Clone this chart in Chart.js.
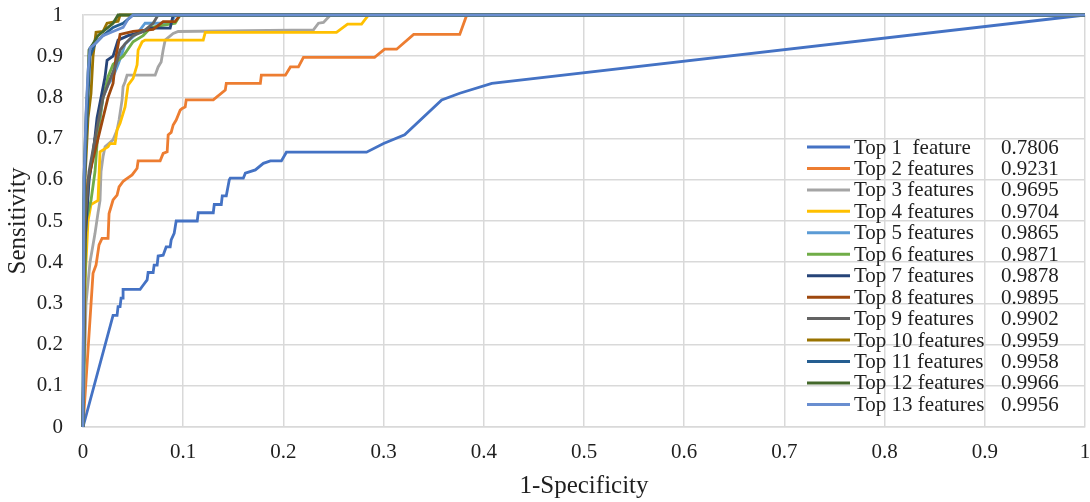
<!DOCTYPE html>
<html>
<head>
<meta charset="utf-8">
<title>ROC curves</title>
<script src="https://cdn.jsdelivr.net/npm/chart.js@4.4.0/dist/chart.umd.min.js"></script>
<style>
  html, body { margin: 0; padding: 0; background: #fff; }
  #wrap { width: 1090px; height: 502px; }
</style>
</head>
<body>
<div id="wrap"><canvas id="rocChart" width="1090" height="502"></canvas></div>
<script>
// ROC points per model, [1-specificity, sensitivity]
const top1 = [[0,0],[0.030,0.271],[0.034,0.271],[0.035,0.292],[0.037,0.292],[0.038,0.313],[0.040,0.313],[0.040,0.334],[0.057,0.334],[0.060,0.344],[0.064,0.357],[0.065,0.375],[0.070,0.375],[0.071,0.393],[0.074,0.393],[0.075,0.415],[0.080,0.417],[0.083,0.437],[0.087,0.437],[0.088,0.454],[0.091,0.470],[0.093,0.500],[0.114,0.500],[0.115,0.520],[0.130,0.520],[0.131,0.540],[0.138,0.540],[0.139,0.561],[0.143,0.561],[0.146,0.600],[0.147,0.604],[0.160,0.604],[0.162,0.616],[0.172,0.624],[0.180,0.640],[0.187,0.646],[0.198,0.646],[0.203,0.667],[0.283,0.667],[0.300,0.688],[0.321,0.709],[0.358,0.794],[0.376,0.810],[0.408,0.834],[1,1]];
const top2 = [[0,0],[0.010,0.373],[0.013,0.393],[0.016,0.442],[0.019,0.458],[0.025,0.458],[0.026,0.518],[0.030,0.551],[0.034,0.563],[0.036,0.583],[0.040,0.596],[0.042,0.600],[0.049,0.612],[0.054,0.628],[0.055,0.646],[0.077,0.646],[0.080,0.664],[0.084,0.668],[0.085,0.709],[0.088,0.715],[0.090,0.733],[0.093,0.745],[0.097,0.769],[0.099,0.773],[0.102,0.777],[0.103,0.794],[0.130,0.794],[0.142,0.818],[0.143,0.834],[0.177,0.834],[0.178,0.854],[0.202,0.854],[0.207,0.874],[0.215,0.874],[0.220,0.897],[0.291,0.897],[0.301,0.917],[0.313,0.917],[0.330,0.953],[0.376,0.953],[0.383,1],[1,1]];
const top3 = [[0,0],[0.003,0.300],[0.007,0.400],[0.012,0.470],[0.015,0.520],[0.017,0.550],[0.018,0.620],[0.020,0.656],[0.022,0.680],[0.030,0.697],[0.034,0.721],[0.036,0.745],[0.039,0.794],[0.040,0.826],[0.042,0.838],[0.044,0.854],[0.072,0.854],[0.075,0.874],[0.078,0.886],[0.080,0.915],[0.082,0.939],[0.090,0.955],[0.095,0.960],[0.230,0.964],[0.235,0.980],[0.240,0.982],[0.247,1],[1,1]];
const top4 = [[0,0],[0.002,0.350],[0.005,0.500],[0.008,0.540],[0.015,0.550],[0.017,0.668],[0.025,0.680],[0.027,0.688],[0.032,0.688],[0.034,0.721],[0.037,0.737],[0.042,0.777],[0.045,0.830],[0.050,0.846],[0.054,0.879],[0.055,0.915],[0.059,0.935],[0.062,0.939],[0.120,0.939],[0.122,0.958],[0.253,0.958],[0.264,0.978],[0.278,0.978],[0.285,1],[1,1]];
const top5 = [[0,0],[0.002,0.450],[0.006,0.600],[0.012,0.700],[0.016,0.730],[0.020,0.800],[0.025,0.830],[0.030,0.850],[0.035,0.880],[0.038,0.900],[0.042,0.930],[0.055,0.958],[0.062,0.980],[0.088,0.980],[0.092,1],[1,1]];
const top6 = [[0,0],[0.003,0.500],[0.008,0.550],[0.012,0.620],[0.015,0.720],[0.020,0.800],[0.025,0.850],[0.030,0.880],[0.040,0.900],[0.050,0.935],[0.060,0.950],[0.068,0.970],[0.092,0.980],[0.097,1],[1,1]];
const top7 = [[0,0],[0.002,0.450],[0.006,0.600],[0.010,0.660],[0.014,0.750],[0.018,0.800],[0.022,0.850],[0.024,0.890],[0.030,0.900],[0.035,0.939],[0.045,0.950],[0.060,0.960],[0.067,0.968],[0.087,0.968],[0.090,1],[1,1]];
const top8 = [[0,0],[0.002,0.500],[0.005,0.600],[0.010,0.650],[0.015,0.700],[0.020,0.750],[0.025,0.800],[0.030,0.834],[0.033,0.900],[0.037,0.953],[0.050,0.960],[0.070,0.965],[0.080,0.984],[0.092,0.984],[0.097,1],[1,1]];
const top9 = [[0,0],[0.002,0.500],[0.006,0.620],[0.012,0.700],[0.020,0.800],[0.028,0.850],[0.033,0.880],[0.037,0.915],[0.042,0.930],[0.050,0.950],[0.060,0.960],[0.070,0.980],[0.075,1],[1,1]];
const top10 = [[0,0],[0.002,0.600],[0.005,0.750],[0.008,0.810],[0.010,0.900],[0.013,0.958],[0.020,0.960],[0.024,0.980],[0.035,0.985],[0.037,1],[1,1]];
const top11 = [[0,0],[0.001,0.550],[0.003,0.700],[0.005,0.800],[0.007,0.900],[0.012,0.930],[0.020,0.950],[0.030,0.970],[0.040,0.980],[0.050,1],[1,1]];
const top12 = [[0,0],[0.001,0.600],[0.003,0.750],[0.005,0.850],[0.006,0.915],[0.010,0.930],[0.015,0.950],[0.020,0.960],[0.030,0.980],[0.035,1],[1,1]];
const top13 = [[0,0],[0.001,0.600],[0.003,0.760],[0.005,0.860],[0.007,0.920],[0.012,0.930],[0.020,0.950],[0.030,0.960],[0.040,0.970],[0.045,0.990],[0.050,1],[1,1]];

const seriesNames = ['Top 1  feature','Top 2 features','Top 3 features','Top 4 features','Top 5 features','Top 6 features','Top 7 features','Top 8 features','Top 9 features','Top 10 features','Top 11 features','Top 12 features','Top 13 features'];
const aucValues = ['0.7806','0.9231','0.9695','0.9704','0.9865','0.9871','0.9878','0.9895','0.9902','0.9959','0.9958','0.9966','0.9956'];
const tickLabels = ['0','0.1','0.2','0.3','0.4','0.5','0.6','0.7','0.8','0.9','1'];
const colors = ['#4472C4','#ED7D31','#A5A5A5','#FFC000','#5B9BD5','#70AD47','#264478','#9E480E','#636363','#997300','#255E91','#43682B','#698ED0'];

const curves = [top1, top2, top3, top4, top5, top6, top7, top8, top9, top10, top11, top12, top13];
const serif = '"Liberation Serif", "Times New Roman", serif';
const textColor = '#1f1f1f';
const gridColor = '#D9D9D9';

// legend with the AUC column, drawn inside the plot on the right
const aucLegend = {
    id: 'aucLegend',
    afterDatasetsDraw(chart) {
        const ctx = chart.ctx;
        const area = chart.chartArea;
        const x0 = area.right - 278;
        ctx.save();
        ctx.font = '21px ' + serif;
        ctx.textBaseline = 'middle';
        ctx.textAlign = 'left';
        chart.data.datasets.forEach((ds, i) => {
            const y = area.top + 132 + i * 21.45;
            ctx.strokeStyle = ds.borderColor;
            ctx.lineWidth = 3;
            ctx.beginPath();
            ctx.moveTo(x0, y);
            ctx.lineTo(x0 + 43, y);
            ctx.stroke();
            ctx.fillStyle = textColor;
            ctx.fillText(ds.label, x0 + 47, y + 1);
            ctx.fillText(aucValues[i], x0 + 194, y + 1);
        });
        ctx.restore();
    }
};

const datasets = curves.map((pts, i) => ({
    label: seriesNames[i],
    data: pts.map(p => ({ x: p[0], y: p[1] })),
    borderColor: colors[i],
    backgroundColor: colors[i],
    borderWidth: 2.8,
    pointRadius: 0,
    showLine: true,
    tension: 0,
    clip: false,
    order: curves.length - i   // later series on top
}));

function axis(title, isX) {
    return {
        type: 'linear',
        min: 0,
        max: 1,
        ticks: {
            stepSize: 0.1,
            padding: isX ? 13 : 20,
            color: textColor,
            font: { family: serif, size: 21 },
            callback: (v, i) => tickLabels[i]
        },
        grid: { color: gridColor, lineWidth: 1.5, drawTicks: false },
        border: { color: gridColor, width: 1.5 },
        title: {
            display: true,
            text: title,
            color: textColor,
            font: { family: serif, size: 25 },
            padding: isX ? { top: 0, bottom: 1 } : { top: 3, bottom: 0 }
        },
        afterFit(scale) {
            if (isX) scale.height = 75;
            else scale.width = 83;
            // keep the plot edges fixed, labels may hang over
            scale.paddingTop = 0;
            scale.paddingBottom = 0;
            scale.paddingLeft = 0;
            scale.paddingRight = 0;
        }
    };
}

new Chart(document.getElementById('rocChart'), {
    type: 'scatter',
    data: { datasets: datasets },
    options: {
        responsive: false,
        animation: false,
        layout: { padding: { top: 15, right: 5, left: 0, bottom: 0 } },
        plugins: {
            legend: { display: false },
            tooltip: { enabled: false }
        },
        scales: {
            x: axis('1-Specificity', true),
            y: axis('Sensitivity', false)
        }
    },
    plugins: [aucLegend]
});
</script>
</body>
</html>
